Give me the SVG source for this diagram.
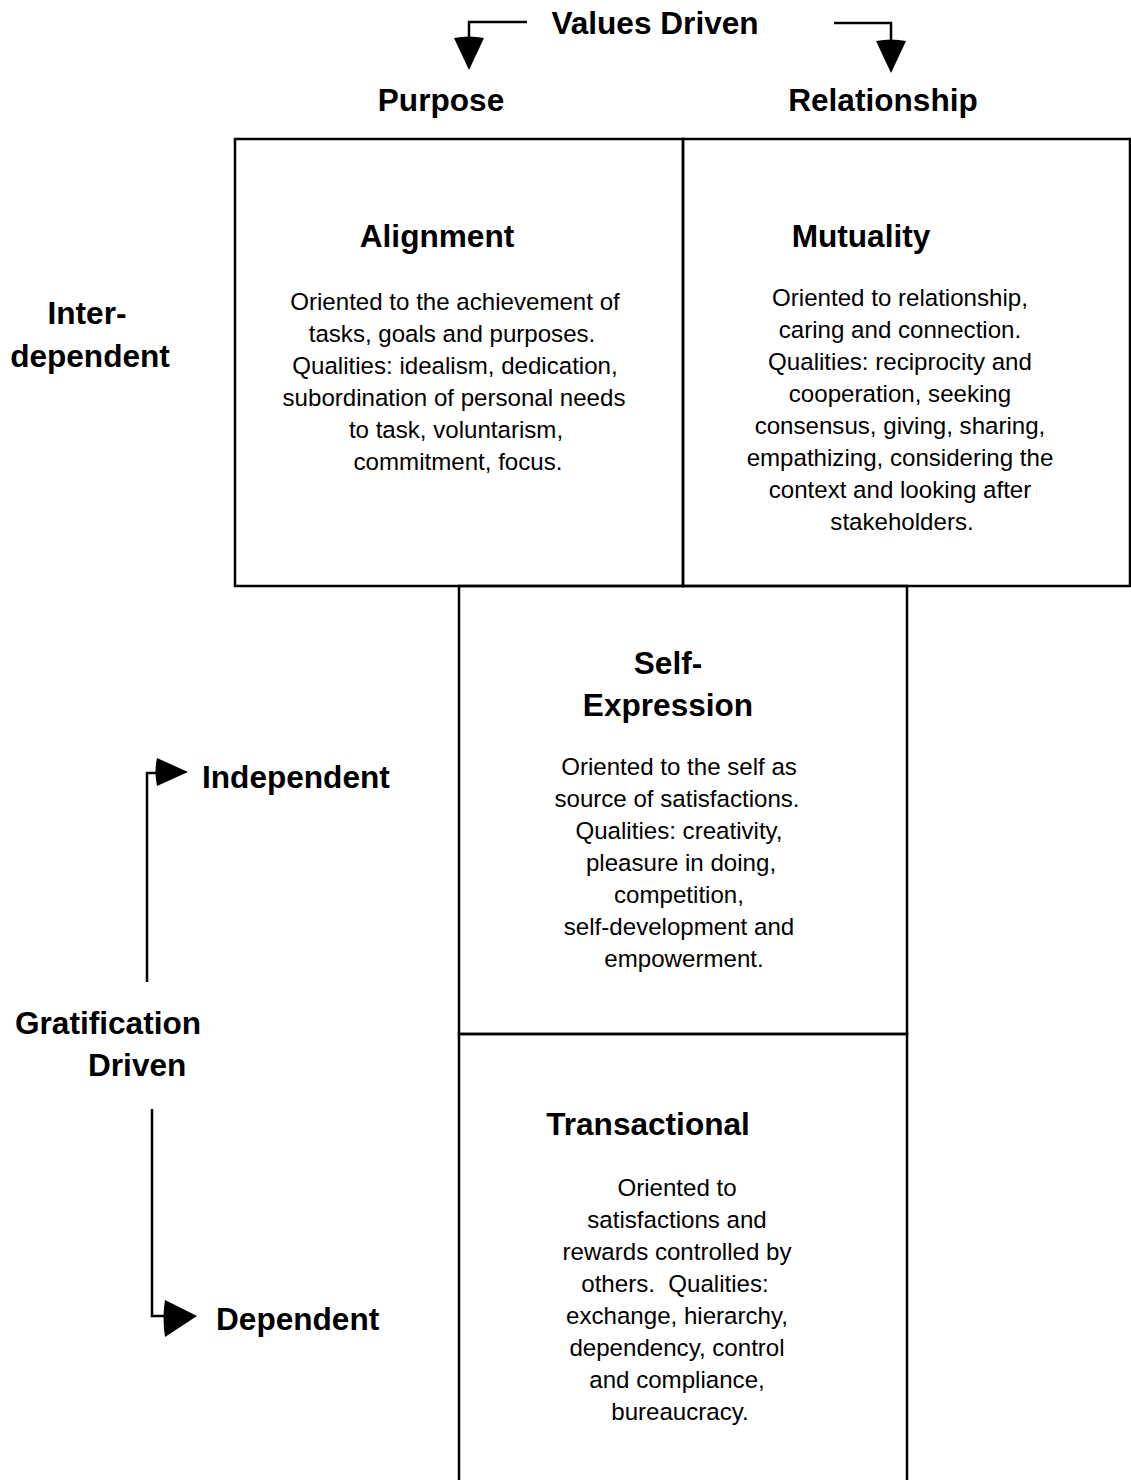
<svg xmlns="http://www.w3.org/2000/svg" width="1131" height="1480" viewBox="0 0 1131 1480">
<style>
.h{font-family:"Liberation Sans",Arial,sans-serif;font-weight:bold;font-size:31.6px;fill:#000}
.b{font-family:"Liberation Sans",Arial,sans-serif;font-size:24.1px;fill:#000;text-anchor:middle;white-space:pre}
.c{text-anchor:middle}
.box{fill:none;stroke:#000;stroke-width:2.5}
.ln{fill:none;stroke:#000;stroke-width:2.5}
</style>
<rect width="1131" height="1480" fill="#fff"/>
<g id="labels">
<text class="h c" x="655" y="34">Values Driven</text>
<text class="h c" x="441" y="111">Purpose</text>
<text class="h c" x="883" y="111">Relationship</text>
<text class="h c" x="87" y="324">Inter-</text>
<text class="h c" x="90" y="367">dependent</text>
<text class="h" x="202" y="788">Independent</text>
<text class="h" x="15" y="1034">Gratification</text>
<text class="h" x="88" y="1076">Driven</text>
<text class="h" x="216" y="1330">Dependent</text>
</g>
<g id="alignment">
<rect class="box" x="235" y="139" width="448" height="447"/>
<text class="h c" x="437" y="247">Alignment</text>
<text class="b" x="455" y="310">Oriented to the achievement of</text>
<text class="b" x="452" y="342">tasks, goals and purposes.</text>
<text class="b" x="455" y="374">Qualities: idealism, dedication,</text>
<text class="b" x="454" y="406">subordination of personal needs</text>
<text class="b" x="456" y="438">to task, voluntarism,</text>
<text class="b" x="458" y="470">commitment, focus.</text>
</g>
<g id="mutuality">
<rect class="box" x="683" y="139" width="447" height="447"/>
<text class="h c" x="861" y="247">Mutuality</text>
<text class="b" x="900" y="306">Oriented to relationship,</text>
<text class="b" x="900" y="338">caring and connection.</text>
<text class="b" x="900" y="370">Qualities: reciprocity and</text>
<text class="b" x="900" y="402">cooperation, seeking</text>
<text class="b" x="900" y="434">consensus, giving, sharing,</text>
<text class="b" x="900" y="466">empathizing, considering the</text>
<text class="b" x="900" y="498">context and looking after</text>
<text class="b" x="902" y="530">stakeholders.</text>
</g>
<g id="self-expression">
<rect class="box" x="459" y="586" width="448" height="448"/>
<text class="h c" x="668" y="674">Self-</text>
<text class="h c" x="668" y="716">Expression</text>
<text class="b" x="679" y="775">Oriented to the self as</text>
<text class="b" x="677" y="807">source of satisfactions.</text>
<text class="b" x="679" y="839">Qualities: creativity,</text>
<text class="b" x="681" y="871">pleasure in doing,</text>
<text class="b" x="679" y="903">competition,</text>
<text class="b" x="679" y="935">self-development and</text>
<text class="b" x="684" y="967">empowerment.</text>
</g>
<g id="transactional">
<path class="box" d="M459,1490 V1034 H907 V1490"/>
<text class="h c" x="648" y="1135">Transactional</text>
<text class="b" x="677" y="1196">Oriented to</text>
<text class="b" x="677" y="1228">satisfactions and</text>
<text class="b" x="677" y="1260">rewards controlled by</text>
<text class="b" x="675" y="1292">others.  Qualities:</text>
<text class="b" x="677" y="1324">exchange, hierarchy,</text>
<text class="b" x="677" y="1356">dependency, control</text>
<text class="b" x="677" y="1388">and compliance,</text>
<text class="b" x="680" y="1420">bureaucracy.</text>
</g>
<g id="connectors">
<path class="ln" d="M527,22 H469 V40"/>
<path d="M454,38 Q469,35 484,38 L469,70 Z" fill="#000"/>
<path class="ln" d="M834,23 H891 V43"/>
<path d="M876,41 Q891,38 906,41 L891,73 Z" fill="#000"/>
<path class="ln" d="M147,982 V773 H157"/>
<path d="M157,758 Q154,772 157,786 L188,772 Z" fill="#000"/>
<path class="ln" d="M152,1109 V1316 H165"/>
<path d="M165,1300 Q162,1318 165,1337 L197,1316 Z" fill="#000"/>
</g>
</svg>
